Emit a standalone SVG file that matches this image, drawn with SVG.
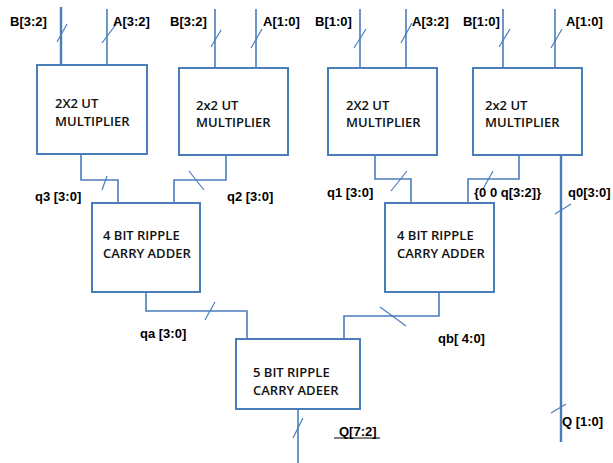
<svg xmlns="http://www.w3.org/2000/svg" width="613" height="463" viewBox="0 0 613 463">
<style>
.box{fill:#fff;stroke:#4a7ebb;stroke-width:2}
.w{fill:none;stroke:#4a7ebb;stroke-width:1.6}
.wt{fill:none;stroke:#4a7ebb;stroke-width:2.4}
.s{fill:none;stroke:#4a7ebb;stroke-width:1.2}
.lb{font-family:"Liberation Sans",Arial,sans-serif;font-weight:bold;font-size:13px;fill:#000}
.bt{font-family:"Open Sans","Liberation Sans",sans-serif;font-weight:600;font-size:13px;fill:#111}
</style>
<rect width="613" height="463" fill="#fff"/>
<g id="connectors">
<line class="wt" x1="61" y1="7" x2="61" y2="65"/><line class="s" x1="57" y1="42" x2="67" y2="24"/>
<line class="w" x1="107" y1="9" x2="107" y2="66"/><line class="s" x1="102" y1="43" x2="117" y2="23"/>
<line class="w" x1="215" y1="9" x2="215" y2="68"/><line class="s" x1="211" y1="47" x2="221" y2="30"/>
<line class="w" x1="256" y1="9" x2="256" y2="68"/><line class="s" x1="251" y1="48" x2="262" y2="29"/>
<line class="w" x1="360" y1="9" x2="360" y2="68"/><line class="s" x1="354" y1="48" x2="366" y2="29"/>
<line class="w" x1="406" y1="9" x2="406" y2="68"/><line class="s" x1="401" y1="43" x2="412" y2="23"/>
<line class="w" x1="503" y1="9" x2="503" y2="68"/><line class="s" x1="499" y1="47" x2="510" y2="29"/>
<line class="w" x1="555" y1="9" x2="555" y2="68"/><line class="s" x1="551" y1="48" x2="562" y2="29"/>
<polyline class="w" points="81,154 81,180 118,180 118,203"/><line class="s" x1="102" y1="190" x2="107" y2="176"/>
<polyline class="w" points="226,155 226,180 174,180 174,203"/><line class="s" x1="189" y1="171" x2="204" y2="190"/>
<polyline class="w" points="375,155 375,179 411,179 411,203"/><line class="s" x1="391" y1="191" x2="407" y2="171"/>
<polyline class="w" points="519,155 519,179 468,179 468,203"/><line class="s" x1="483" y1="189" x2="493" y2="171"/>
<line class="wt" x1="561" y1="155" x2="561" y2="442"/><line class="s" x1="555" y1="214" x2="571" y2="204"/>
<line class="s" x1="551" y1="413" x2="566" y2="404"/>
<polyline class="w" points="146,292 146,311 247,311 247,339"/><line class="s" x1="205" y1="320" x2="215" y2="302"/>
<polyline class="w" points="439,292 439,316 344,316 344,339"/><line class="s" x1="380" y1="307" x2="406" y2="326"/>
<line class="w" x1="298" y1="409" x2="298" y2="463"/><line class="s" x1="293" y1="438" x2="303" y2="418"/>
</g>
<g id="mult1"><rect class="box" x="37" y="65" width="110" height="89"/><text class="bt" x="55" y="108">2X2 UT</text><text class="bt" x="55" y="126">MULTIPLIER</text></g>
<g id="mult2"><rect class="box" x="179" y="68" width="109" height="87"/><text class="bt" x="196" y="110">2x2 UT</text><text class="bt" x="196" y="127">MULTIPLIER</text></g>
<g id="mult3"><rect class="box" x="328" y="68" width="109" height="87"/><text class="bt" x="346" y="110">2X2 UT</text><text class="bt" x="346" y="127">MULTIPLIER</text></g>
<g id="mult4"><rect class="box" x="473" y="68" width="109" height="87"/><text class="bt" x="485" y="110">2x2 UT</text><text class="bt" x="485" y="127">MULTIPLIER</text></g>
<g id="adder1"><rect class="box" x="92" y="203" width="108" height="89"/><text class="bt" x="103" y="240">4 BIT RIPPLE</text><text class="bt" x="103" y="258">CARRY ADDER</text></g>
<g id="adder2"><rect class="box" x="385" y="203" width="109" height="89"/><text class="bt" x="397" y="240">4 BIT RIPPLE</text><text class="bt" x="397" y="258">CARRY ADDER</text></g>
<g id="adder5"><rect class="box" x="236" y="339" width="124" height="70"/><text class="bt" x="253" y="377">5 BIT RIPPLE</text><text class="bt" x="253" y="395">CARRY ADEER</text></g>
<g id="labels">
<text class="lb" x="10" y="26">B[3:2]</text><text class="lb" x="113" y="26">A[3:2]</text>
<text class="lb" x="170" y="26">B[3:2]</text><text class="lb" x="263" y="26">A[1:0]</text>
<text class="lb" x="315" y="26">B[1:0]</text><text class="lb" x="412" y="26">A[3:2]</text>
<text class="lb" x="463" y="26">B[1:0]</text><text class="lb" x="566" y="26">A[1:0]</text>
<text class="lb" x="35" y="201">q3 [3:0]</text><text class="lb" x="227" y="201">q2 [3:0]</text>
<text class="lb" x="327" y="197">q1 [3:0]</text><text class="lb" x="474" y="197">{0 0 q[3:2]}</text>
<text class="lb" x="568" y="197">q0[3:0]</text>
<text class="lb" x="140" y="338">qa [3:0]</text><text class="lb" x="438" y="343">qb[ 4:0]</text>
<text class="lb" x="339" y="436">Q[7:2]</text><line x1="334" y1="438" x2="380" y2="438" stroke="#000" stroke-width="1"/>
<text class="lb" x="562" y="426">Q [1:0]</text>
</g>
</svg>
